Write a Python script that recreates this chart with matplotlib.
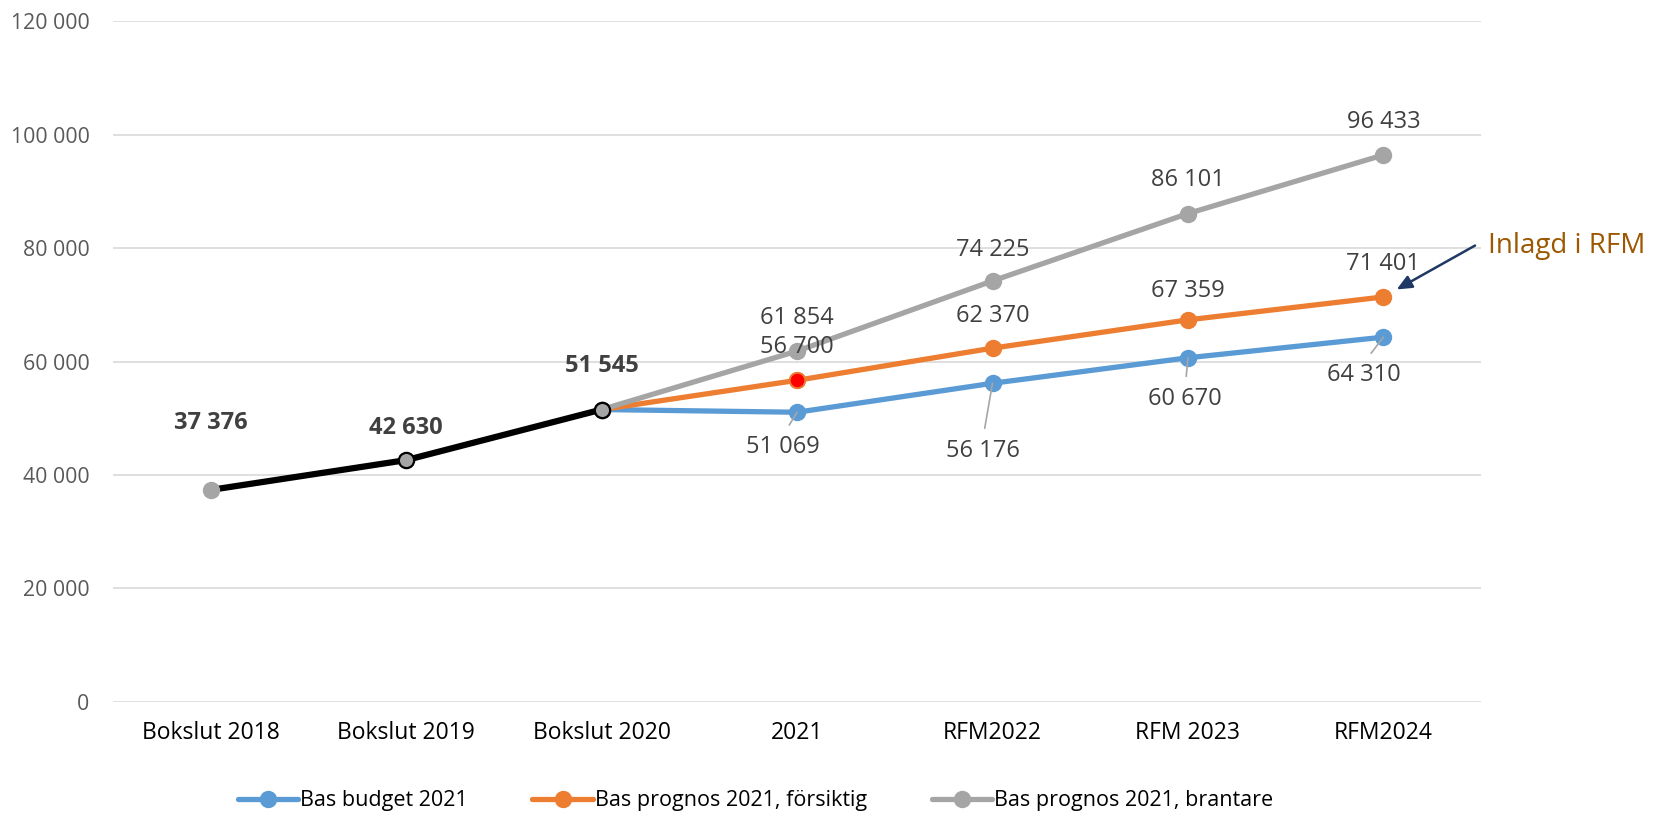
import matplotlib
matplotlib.use("Agg")
import matplotlib.pyplot as plt
from matplotlib.ticker import FuncFormatter

plt.rcParams["font.family"] = ["Open Sans", "DejaVu Sans"]

categories = ["Bokslut 2018", "Bokslut 2019", "Bokslut 2020", "2021",
              "RFM2022", "RFM 2023", "RFM2024"]

bokslut = [37376, 42630, 51545]
budget = [51545, 51069, 56176, 60670, 64310]
forsiktig = [51545, 56700, 62370, 67359, 71401]
brantare = [51545, 61854, 74225, 86101, 96433]

yticks = [0, 20000, 40000, 60000, 80000, 100000, 120000]

BLUE = "#5B9BD5"
ORANGE = "#ED7D31"
GRAY = "#A5A5A5"
LABEL = "#404040"
FS = 17


def fmt(v):
    return f"{v:,.0f}".replace(",", " ")


fig = plt.figure(figsize=(16.53, 8.19), dpi=100)
ax = fig.add_axes([0.0684, 0.143, 0.8276, 0.831])

x_all = list(range(len(categories)))
x_fc = x_all[2:]

lb, = ax.plot(x_fc, budget, color=BLUE, lw=3.8, marker="o", ms=11.5,
              solid_capstyle="round", zorder=3, label="Bas budget 2021")
lo, = ax.plot(x_fc, forsiktig, color=ORANGE, lw=3.8, marker="o", ms=11.5,
              solid_capstyle="round", zorder=3,
              label="Bas prognos 2021, försiktig")
lg, = ax.plot(x_fc, brantare, color=GRAY, lw=3.8, marker="o", ms=11.5,
              solid_capstyle="round", zorder=3,
              label="Bas prognos 2021, brantare")
# red highlighted point on the orange series
ax.plot(x_fc[1], forsiktig[1], marker="o", ms=11, color="red",
        mec=ORANGE, mew=1.2, zorder=4)

ax.plot(x_all[:3], bokslut, color="black", lw=4.5, zorder=5)
ax.plot(x_all[0], bokslut[0], marker="o", ms=11.5, color=GRAY, mec=GRAY,
        zorder=6)
ax.plot(x_all[1:3], bokslut[1:], ls="none", marker="o", ms=11, color=GRAY,
        mec="black", mew=1.6, zorder=6)

# labels for the actuals
for xi, v, dy in zip(x_all[:3], bokslut, [48, 23, 31]):
    ax.annotate(fmt(v), (xi, v), xytext=(0, dy), textcoords="offset points",
                ha="center", va="center", fontsize=FS, fontweight="bold",
                color=LABEL)

for xi, v, dy in zip(x_fc[1:], brantare[1:], [23.5, 22, 24, 24]):
    ax.annotate(fmt(v), (xi, v), xytext=(0, dy), textcoords="offset points",
                ha="center", va="center", fontsize=FS, color=LABEL)

for xi, v, dy in zip(x_fc[1:], forsiktig[1:], [24, 23.5, 20.5, 23.5]):
    ax.annotate(fmt(v), (xi, v), xytext=(0, dy), textcoords="offset points",
                ha="center", va="center", fontsize=FS, color=LABEL)

for xi, v, (dx, dy) in zip(x_fc[1:], budget[1:],
                           [(-10, -25), (-7, -49), (-2, -30), (-14, -27)]):
    ax.annotate(fmt(v), (xi, v), xytext=(dx, dy), textcoords="offset points",
                ha="center", va="center", fontsize=FS, color=LABEL,
                arrowprops=dict(arrowstyle="-", color="#A6A6A6", lw=1.2,
                                relpos=(0.5, 1.0), shrinkA=6, shrinkB=0))

# callout
ax.annotate("", xy=(x_fc[-1], forsiktig[-1]), xytext=(66, 37),
            textcoords="offset points",
            arrowprops=dict(arrowstyle="-|>,head_length=0.9,head_width=0.4",
                            color="#1F3864", lw=1.8, shrinkA=0, shrinkB=11),
            annotation_clip=False)
ax.annotate("Inlagd i RFM", (x_fc[-1], forsiktig[-1]), xytext=(75, 37),
            textcoords="offset points", ha="left", va="center",
            fontsize=20, color="#9C5700", annotation_clip=False)

ax.set_xlim(-0.5, len(categories) - 0.5)
ax.set_ylim(0, 120000)
ax.set_xticks(x_all)
ax.set_xticklabels(categories, fontsize=16.5, color="black")
ax.set_yticks(yticks)
ax.yaxis.set_major_formatter(FuncFormatter(lambda v, p: fmt(v)))
ax.tick_params(axis="y", labelsize=15.3, colors="#595959", length=0, pad=17)
ax.tick_params(axis="x", length=0, pad=14)
ax.grid(axis="y", color="#D9D9D9", lw=1.2)
ax.set_axisbelow(True)
for s in ax.spines.values():
    s.set_visible(False)

fig.legend(handles=[lb, lo, lg], loc="center", bbox_to_anchor=(0.457, 0.022),
           ncol=3, frameon=False, fontsize=15.5, handlelength=2.8,
           handletextpad=0.1, columnspacing=3.0)

fig.savefig("out.png", dpi=100)
